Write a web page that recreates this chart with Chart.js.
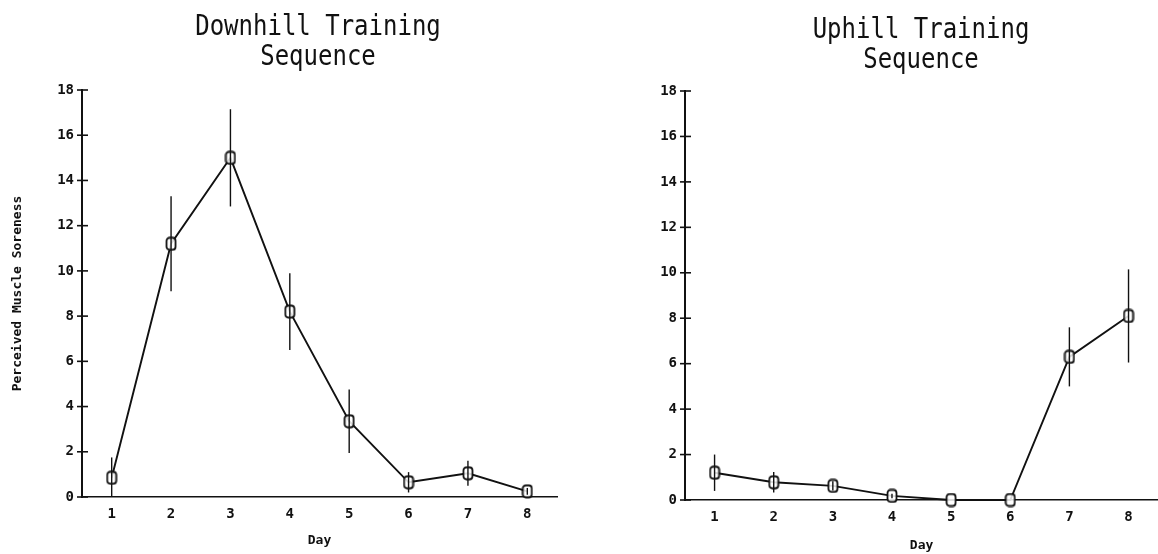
<!DOCTYPE html>
<html>
<head>
<meta charset="utf-8">
<script src="https://cdn.jsdelivr.net/npm/chart.js@4.4.1/dist/chart.umd.min.js"></script>
<style>
  html, body { margin: 0; padding: 0; background: #fff; }
  #wrap { position: relative; width: 1158px; height: 554px; overflow: hidden; }
  .panel { position: absolute; top: 0; height: 554px; }
  #left { left: 0; width: 579px; }
  #right { left: 579px; width: 587px; }
</style>
</head>
<body>
<div id="wrap">
  <div class="panel" id="left"><canvas id="cDown" width="579" height="554"></canvas></div>
  <div class="panel" id="right"><canvas id="cUp" width="587" height="554"></canvas></div>
</div>
<script>
// Day categories shared by both panels
const days = ['1', '2', '3', '4', '5', '6', '7', '8'];

// Perceived muscle soreness, mean and error half-width per day
const downhillMean = [0.85, 11.2, 15.0, 8.2, 3.35, 0.65, 1.05, 0.25];
const downhillErr  = [0.9, 2.1, 2.15, 1.7, 1.4, 0.45, 0.55, 0.15];
const uphillMean   = [1.2, 0.78, 0.62, 0.18, 0, 0, 6.3, 8.1];
const uphillErr    = [0.8, 0.45, 0.2, 0.1, 0, 0, 1.3, 2.05];

// Y axis range and tick step
const yMin = 0, yMax = 18, yStep = 2;

const INK = '#111';
const MONO = '"DejaVu Sans Mono", "Liberation Mono", monospace';

// Upright rounded-box marker
function makeMarker() {
  const c = document.createElement('canvas');
  c.width = 12; c.height = 15;
  const g = c.getContext('2d');
  g.fillStyle = 'rgba(255,255,255,0.85)';
  g.strokeStyle = INK;
  g.lineWidth = 1.8;
  g.beginPath();
  g.roundRect(1.5, 1.5, 9, 12, 3);
  g.fill();
  g.stroke();
  return c;
}
const marker = makeMarker();

// Vertical error bars drawn through the chart's own scales
const errorBars = {
  id: 'errorBars',
  afterDatasetsDraw(chart, args, opts) {
    const ctx = chart.ctx;
    const y = chart.scales.y;
    const meta = chart.getDatasetMeta(0);
    const means = opts.means, errs = opts.errs;
    ctx.save();
    ctx.strokeStyle = INK;
    ctx.lineWidth = 1.4;
    meta.data.forEach((pt, i) => {
      if (!errs[i]) return;
      const lo = Math.max(yMin, means[i] - errs[i]);
      const hi = means[i] + errs[i];
      ctx.beginPath();
      ctx.moveTo(pt.x, y.getPixelForValue(lo));
      ctx.lineTo(pt.x, y.getPixelForValue(hi));
      ctx.stroke();
    });
    ctx.restore();
  }
};

// Cross-shaped tick marks on the value axis
const crossTicks = {
  id: 'crossTicks',
  afterDraw(chart) {
    const ctx = chart.ctx;
    const y = chart.scales.y;
    const x0 = chart.chartArea.left;
    ctx.save();
    ctx.strokeStyle = INK;
    ctx.lineWidth = 1.6;
    y.ticks.forEach(t => {
      const py = y.getPixelForValue(t.value);
      ctx.beginPath();
      ctx.moveTo(x0 - 5, py);
      ctx.lineTo(x0 + 6, py);
      ctx.stroke();
    });
    ctx.restore();
  }
};

// Two-line heading above each panel
const heading = {
  id: 'heading',
  afterDraw(chart, args, opts) {
    const ctx = chart.ctx;
    ctx.save();
    ctx.fillStyle = INK;
    ctx.textAlign = 'center';
    ctx.textBaseline = 'middle';
    ctx.font = '24px ' + MONO;
    opts.lines.forEach((line, i) => {
      ctx.save();
      ctx.translate(opts.x, opts.y + i * opts.gap);
      ctx.scale(1, 1.15);
      ctx.fillText(line, 0, 0);
      ctx.restore();
    });
    ctx.restore();
  }
};

function buildChart(canvasId, means, errs, cfg) {
  return new Chart(document.getElementById(canvasId), {
    type: 'line',
    data: {
      labels: days,
      datasets: [{
        data: means,
        borderColor: INK,
        borderWidth: 1.9,
        pointStyle: marker,
        pointRadius: 6,
        pointHoverRadius: 6,
        tension: 0,
        clip: false
      }]
    },
    plugins: [errorBars, crossTicks, heading],
    options: {
      responsive: false,
      animation: false,
      events: [],
      layout: { padding: { top: cfg.top, right: cfg.right, bottom: 0, left: 0 } },
      plugins: {
        legend: { display: false },
        title: { display: false },
        tooltip: { enabled: false },
        errorBars: { means: means, errs: errs },
        heading: { lines: cfg.heading, x: cfg.headX, y: cfg.headY, gap: 30 }
      },
      scales: {
        x: {
          type: 'category',
          offset: true,
          grid: { display: false, drawTicks: false },
          border: { display: true, color: INK, width: 1.6 },
          ticks: { color: INK, padding: 9, font: { family: MONO, size: 14, weight: 'bold' } },
          title: {
            display: true, text: 'Day', color: INK,
            padding: { top: 0, bottom: cfg.dayPad },
            font: { family: MONO, size: 13, weight: 'bold' }
          },
          afterFit(s) { s.height = cfg.xHeight; }
        },
        y: {
          min: yMin, max: yMax,
          grid: { display: false, drawTicks: false },
          border: { display: true, color: INK, width: 2 },
          ticks: { stepSize: yStep, color: INK, padding: 8, font: { family: MONO, size: 14, weight: 'bold' } },
          title: {
            display: cfg.yTitle !== '',
            text: cfg.yTitle, color: INK,
            padding: { top: 10, bottom: 0 },
            font: { family: MONO, size: 13, weight: 'bold' }
          },
          afterFit(s) { s.width = cfg.yWidth; }
        }
      }
    }
  });
}

buildChart('cDown', downhillMean, downhillErr, {
  top: 90, right: 22, xHeight: 57, yWidth: 82, dayPad: 6,
  yTitle: 'Perceived Muscle Soreness',
  heading: ['Downhill Training', 'Sequence'], headX: 318, headY: 28
});

buildChart('cUp', uphillMean, uphillErr, {
  top: 91, right: 0, xHeight: 54, yWidth: 106, dayPad: 1,
  yTitle: '',
  heading: ['Uphill Training', 'Sequence'], headX: 342, headY: 31
});
</script>
</body>
</html>
